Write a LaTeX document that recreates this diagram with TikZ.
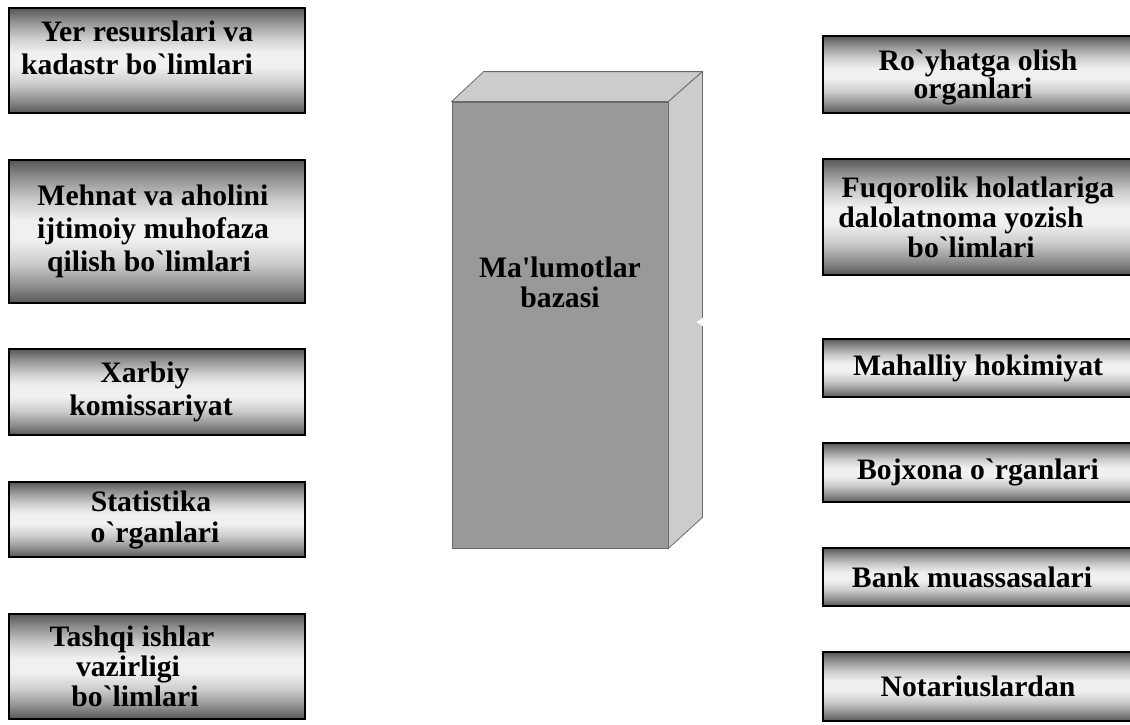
\documentclass[tikz,border=0pt]{standalone}
\usepackage{fontspec}
\newfontfamily\tnr{Liberation Serif}
\definecolor{sA}{gray}{0.34}
\definecolor{sB}{gray}{0.56}
\definecolor{sC}{gray}{0.80}
\definecolor{sD}{gray}{0.94}
\definecolor{frontc}{gray}{0.60}
\definecolor{sidec}{gray}{0.80}
\definecolor{edgec}{gray}{0.42}
\pgfdeclareverticalshading{barshade}{100bp}{color(0bp)=(sA); color(25bp)=(sA); color(31bp)=(sB); color(39bp)=(sC); color(47bp)=(sD); color(54bp)=(sD); color(61bp)=(sC); color(69bp)=(sB); color(75bp)=(sA); color(100bp)=(sA)}
\newcommand{\pad}[1]{\rule{#1}{0pt}}
\tikzset{
  bx/.style={draw=black, line width=1.6pt, shading=barshade, align=center, inner sep=0pt,
    font={\tnr\bfseries\fontsize{29.7}{33}\selectfont}},
  lbx/.style={bx, minimum width=296pt},
  rbx/.style={bx, minimum width=310pt},
  face/.style={fill=sidec, draw=edgec, line width=0.8pt},
}
\begin{document}
\begin{tikzpicture}[x=1pt, y=-1pt]
\useasboundingbox (0,0) rectangle (1130,724);
% left column
\node[lbx, minimum height=105pt] (l1) at (157,60.5) {Yer resurslari va\pad{20pt}\\kadastr bo`limlari\pad{40pt}\\[-8pt]\mbox{}};
\node[lbx, minimum height=143pt] (l2) at (157,231.5) {Mehnat va aholini\pad{8pt}\\ijtimoiy muhofaza\pad{8pt}\\qilish bo`limlari\pad{16pt}};
\node[lbx, minimum height=86pt] (l3) at (157,392) {Xarbiy\pad{24pt}\\komissariyat\pad{12pt}};
\node[lbx, minimum height=75pt, font={\tnr\bfseries\fontsize{29.7}{31}\selectfont}] (l4) at (157,519.5) {Statistika\pad{12pt}\\o`rganlari\pad{4pt}};
\node[lbx, minimum height=105pt, font={\tnr\bfseries\fontsize{29.7}{30}\selectfont}] (l5) at (157,666.5) {Tashqi ishlar\pad{50pt}\\vazirligi\pad{58pt}\\bo`limlari\pad{44pt}};
% right column
\node[rbx, minimum height=77pt, font={\tnr\bfseries\fontsize{29.7}{25}\selectfont}] (r1) at (978,74.5) {\rule{0pt}{26pt}Ro`yhatga olish\\organlari\pad{10pt}};
\node[rbx, minimum height=116pt, font={\tnr\bfseries\fontsize{29.7}{30}\selectfont}] (r2) at (978,217) {Fuqorolik holatlariga\\dalolatnoma yozish\pad{34pt}\\bo`limlari\pad{14pt}};
\node[rbx, minimum height=58pt] (r3) at (978,368) {Mahalliy hokimiyat};
\node[rbx, minimum height=59pt] (r4) at (978,472.5) {Bojxona o`rganlari};
\node[rbx, minimum height=58pt] (r5) at (978,577) {Bank muassasalari\pad{12pt}};
\node[rbx, minimum height=69pt] (r6) at (978,686.5) {Notariuslardan};
% central database block
\node[fill=frontc, draw=edgec, line width=0.8pt, minimum width=216pt, minimum height=446pt, inner sep=0pt,
  label={[font={\tnr\bfseries\fontsize{29.7}{30}\selectfont}, align=center, yshift=43pt]center:{Ma'lumotlar\\bazasi}}]
  (db) at (560,325) {};
\draw[face] (db.north west) -- ++(32,-30) -- ([shift={(34,-30)}]db.north east) -- (db.north east) -- cycle;
\draw[face] (db.north east) -- ([shift={(34,-30)}]db.north east) -- ([shift={(34,-31)}]db.south east) -- (db.south east) -- cycle;
\coordinate (notch) at ([shift={(34,-3)}]db.east);
\fill[white] ([yshift=4pt]notch) -- ++(-6,4) -- ++(6,4) -- ++(1,0) -- ++(0,-8) -- cycle;
\end{tikzpicture}
\end{document}
